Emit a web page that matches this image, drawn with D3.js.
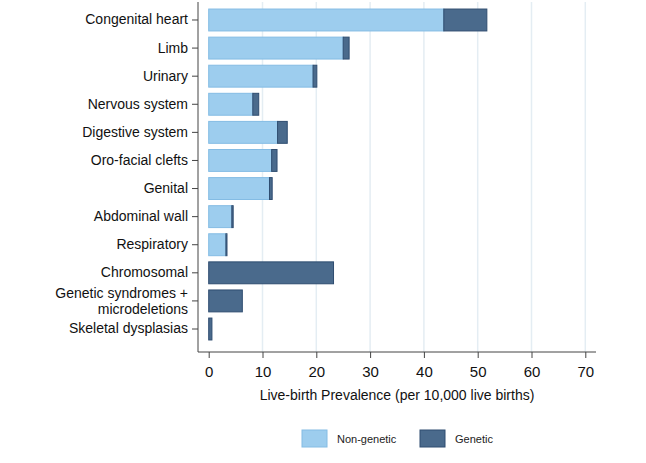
<!DOCTYPE html>
<html lang="en">
<head>
<meta charset="utf-8">
<title>Live-birth prevalence</title>
<script src="https://d3js.org/d3.v7.min.js"></script>
<style>
  body { margin: 0; background: #fff; }
  svg { display: block; font-family: "Liberation Sans", Arial, sans-serif; }
  .grid line { stroke: #e4edf3; stroke-width: 1.5; }
  .axis path, .axis line { stroke: #444; }
  .axis text { fill: #111; }
</style>
</head>
<body>
<div id="chart"></div>
<script>
// data
const categories = ["Congenital heart", "Limb", "Urinary", "Nervous system", "Digestive system",
  "Oro-facial clefts", "Genital", "Abdominal wall", "Respiratory", "Chromosomal",
  "Genetic syndromes + microdeletions", "Skeletal dysplasias"];
const nonGenetic = [43.7, 25.0, 19.4, 8.2, 12.8, 11.7, 11.3, 4.3, 3.2, 0, 0, 0];
const genetic =    [8.0, 1.1, 0.7, 1.1, 1.8, 1.0, 0.5, 0.25, 0.2, 23.2, 6.25, 0.6];
const xTicks = [0, 10, 20, 30, 40, 50, 60, 70];
const seriesNames = ["Non-genetic", "Genetic"];

const width = 646, height = 463;
const margin = {left: 198, top: 6, right: 50, bottom: 111};
const axisY = height - margin.bottom;
const colors = {fill: ["#9dcdee", "#4a6a8c"], stroke: ["#84bce4", "#2f4d70"]};

const svg = d3.select("#chart").append("svg")
  .attr("width", width).attr("height", height);

const x = d3.scaleLinear().domain([0, 70]).range([208.7, 585.3]);
const y = d3.scaleBand().domain(categories)
  .range([margin.top, 343]).paddingInner(0.22).paddingOuter(0.108);

// grid
svg.append("g").attr("class", "grid")
  .selectAll("line").data(xTicks.slice(1)).enter().append("line")
  .attr("x1", d => x(d)).attr("x2", d => x(d))
  .attr("y1", 2).attr("y2", axisY);

// stacked bars
const rows = categories.map((c, i) => ({cat: c, a: nonGenetic[i], b: genetic[i]}));
const bars = svg.append("g");
rows.forEach(r => {
  if (r.a > 0) {
    bars.append("rect")
      .attr("x", x(0)).attr("y", y(r.cat))
      .attr("width", x(r.a) - x(0)).attr("height", y.bandwidth())
      .attr("fill", colors.fill[0]).attr("stroke", colors.stroke[0]).attr("stroke-width", 1);
  }
  bars.append("rect")
    .attr("x", x(r.a)).attr("y", y(r.cat))
    .attr("width", x(r.a + r.b) - x(r.a)).attr("height", y.bandwidth())
    .attr("fill", colors.fill[1]).attr("stroke", colors.stroke[1]).attr("stroke-width", 1);
});

// x axis
const xAxis = svg.append("g").attr("class", "axis")
  .attr("transform", "translate(0," + axisY + ")")
  .call(d3.axisBottom(x).tickValues(xTicks).tickSize(6).tickSizeOuter(0).tickPadding(8));
xAxis.select(".domain").attr("d", "M" + margin.left + ",0H" + (width - margin.right));
xAxis.selectAll("text").attr("font-size", 15);

// y axis
const yAxis = svg.append("g").attr("class", "axis")
  .attr("transform", "translate(" + margin.left + ",0)")
  .call(d3.axisLeft(y).tickSize(6).tickSizeOuter(0).tickPadding(4));
yAxis.select(".domain").attr("d", "M0,2V" + axisY);
yAxis.selectAll("text").attr("font-size", 14)
  .each(function (d) {
    if (d === "Genetic syndromes + microdeletions") {
      const t = d3.select(this).text(null);
      t.append("tspan").attr("x", -10).attr("dy", "-0.2em").text("Genetic syndromes +");
      t.append("tspan").attr("x", -10).attr("dy", "1.1em").text("microdeletions");
    }
  });

// axis title
svg.append("text")
  .attr("x", 397).attr("y", 400)
  .attr("text-anchor", "middle").attr("font-size", 14).attr("fill", "#111")
  .text("Live-birth Prevalence (per 10,000 live births)");

// legend
const legend = svg.append("g");
const legendX = [302, 420];
seriesNames.forEach((s, i) => {
  legend.append("rect")
    .attr("x", legendX[i]).attr("y", 430).attr("width", 25).attr("height", 17)
    .attr("fill", colors.fill[i]).attr("stroke", colors.stroke[i]);
  legend.append("text")
    .attr("x", legendX[i] + 35).attr("y", 442.5)
    .attr("font-size", 11).attr("fill", "#222").text(s);
});
</script>
</body>
</html>
